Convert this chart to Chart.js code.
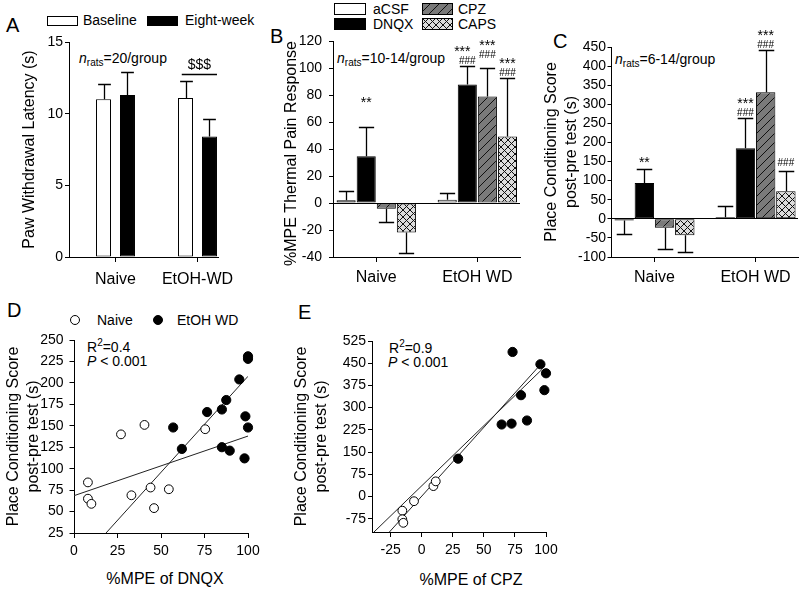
<!DOCTYPE html>
<html>
<head>
<meta charset="utf-8">
<script src="https://cdn.jsdelivr.net/npm/chart.js@4.4.1/dist/chart.umd.min.js"></script>
<style>
  body { margin: 0; background: #fff; font-family: "Liberation Sans", Arial, sans-serif; color: #000; }
  #fig { position: relative; width: 800px; height: 589px; overflow: hidden; }
  #fig canvas.chart { position: absolute; }
  .t { position: absolute; font-size: 14px; line-height: 1; white-space: nowrap; }
  .xt { position: absolute; font-size: 16px; line-height: 1; white-space: nowrap; transform: translateX(-50%); }
  .lt { position: absolute; font-size: 20px; line-height: 1; }
  .t sub { font-size: 10px; vertical-align: -3px; line-height: 0; }
  .t sup { font-size: 10px; vertical-align: 6px; line-height: 0; }
  .sw { position: absolute; }
  .dot { position: absolute; width: 10px; height: 10px; border-radius: 50%; border: 1px solid #000; box-sizing: border-box; }
</style>
</head>
<body>
<div id="fig">
  <!-- panel letters -->
  <div class="lt" style="left:6px;top:15px">A</div>
  <div class="lt" style="left:270px;top:26px">B</div>
  <div class="lt" style="left:553px;top:31px">C</div>
  <div class="lt" style="left:7px;top:300px">D</div>
  <div class="lt" style="left:298px;top:302px">E</div>

  <!-- legend A -->
  <canvas class="sw" id="swBase" width="31" height="10" style="left:47px;top:16px"></canvas>
  <div class="t" style="left:83px;top:13px">Baseline</div>
  <canvas class="sw" id="swEight" width="31" height="10" style="left:147px;top:16px"></canvas>
  <div class="t" style="left:185px;top:13px">Eight-week</div>

  <!-- legend B/C -->
  <canvas class="sw" id="swACSF" width="32" height="12" style="left:334px;top:3px"></canvas>
  <div class="t" style="left:373px;top:2px">aCSF</div>
  <canvas class="sw" id="swDNQX" width="32" height="12" style="left:334px;top:18px"></canvas>
  <div class="t" style="left:373px;top:17px">DNQX</div>
  <canvas class="sw" id="swCPZ" width="31" height="12" style="left:422px;top:3px"></canvas>
  <div class="t" style="left:458px;top:2px">CPZ</div>
  <canvas class="sw" id="swCAPS" width="31" height="12" style="left:422px;top:18px"></canvas>
  <div class="t" style="left:458px;top:17px">CAPS</div>

  <!-- group sizes -->
  <div class="t" style="left:79px;top:51px"><i>n</i><sub>rats</sub>=20/group</div>
  <div class="t" style="left:337px;top:51px"><i>n</i><sub>rats</sub>=10-14/group</div>
  <div class="t" style="left:615px;top:52px"><i>n</i><sub>rats</sub>=6-14/group</div>

  <!-- legend D -->
  <div class="dot" style="left:70px;top:315px;background:#fff"></div>
  <div class="t" style="left:97px;top:313px">Naive</div>
  <div class="dot" style="left:153px;top:315px;background:#000"></div>
  <div class="t" style="left:177px;top:313px">EtOH WD</div>

  <!-- stats D / E -->
  <div class="t" style="left:87px;top:340px">R<sup>2</sup>=0.4</div>
  <div class="t" style="left:87px;top:354px"><i>P</i> &lt; 0.001</div>
  <div class="t" style="left:389px;top:341px">R<sup>2</sup>=0.9</div>
  <div class="t" style="left:388px;top:355px"><i>P</i> &lt; 0.001</div>

  <!-- x titles D / E -->
  <div class="xt" style="left:165px;top:571px">%MPE of DNQX</div>
  <div class="xt" style="left:471px;top:572px">%MPE of CPZ</div>

  <canvas class="chart" id="cA" width="240" height="300" style="left:0;top:0"></canvas>
  <canvas class="chart" id="cB" width="260" height="300" style="left:270px;top:0"></canvas>
  <canvas class="chart" id="cC" width="270" height="300" style="left:530px;top:0"></canvas>
  <canvas class="chart" id="cD" width="270" height="299" style="left:0;top:290px"></canvas>
  <canvas class="chart" id="cE" width="290" height="299" style="left:280px;top:290px"></canvas>
</div>

<script>
// ===================================================
// DATA
// ===================================================
// A: paw withdrawal latency (s), mean and SEM
const groupsA = ['Naive', 'EtOH-WD'];
const baseline = [11.0, 11.1];
const baselineSem = [1.1, 1.15];
const eightWeek = [11.3, 8.4];
const eightWeekSem = [1.6, 1.25];
const wdBracketLevel = 12.8;   // height of the $$$ bracket

// B: %MPE thermal pain response
const groupsBC = ['Naive', 'EtOH WD'];
const mpeACSF = [2, 2.5];      const mpeACSFSem = [6.7, 4.7];
const mpeDNQX = [34.6, 87.8];  const mpeDNQXSem = [21.5, 13.6];
const mpeCPZ = [-4.2, 78.9];   const mpeCPZSem = [9.9, 21];
const mpeCAPS = [-21.8, 49.2]; const mpeCAPSSem = [15.3, 43.3];
const sigB_DNQX = [['**'], ['###', '***']];
const sigB_CPZ = [[], ['###', '***']];
const sigB_CAPS = [[], ['###', '***']];

// C: place conditioning score (s)
const cppACSF = [-4.4, 4.4];    const cppACSFSem = [36.6, 28.8];
const cppDNQX = [94, 185];      const cppDNQXSem = [37, 79.5];
const cppCPZ = [-23.6, 331.7];  const cppCPZSem = [56.7, 110];
const cppCAPS = [-42.8, 72.5];  const cppCAPSSem = [44.5, 54];
const sigC_DNQX = [['**'], ['###', '***']];
const sigC_CPZ = [[], ['###', '***']];
const sigC_CAPS = [[], ['###']];

// D: %MPE of DNQX vs place conditioning score
const dnqxNaiveX = [8, 8, 10, 27, 40.5, 33, 44, 46, 54.5, 75.4];
const dnqxNaiveY = [84, 65, 59, 140, 151, 69, 78, 54, 76, 146];
const dnqxWdX = [57, 62, 76.5, 85, 87.5, 95, 100, 100, 98.5, 100, 85, 89.5, 98];
const dnqxWdY = [148, 123, 166, 169, 180, 204, 231, 228, 161, 148, 125, 121, 112];
const dnqxFit1X = [0, 100];     const dnqxFit1Y = [68.5, 138];
const dnqxFit2X = [18.4, 100];  const dnqxFit2Y = [25, 207.7];

// E: %MPE of CPZ vs place conditioning score
const cpzNaiveX = [-15.6, -15.6, -14.8, -6.2, 9.4, 11.3];
const cpzNaiveY = [-48, -77, -89, -16, 35, 51];
const cpzWdX = [29.3, 64.3, 72.3, 84.7, 79.9, 73.1, 95.5, 100, 98.7];
const cpzWdY = [127.5, 243, 246, 256.5, 342, 488, 446.5, 416, 359];
const cpzFit1X = [-38.4, 97];   const cpzFit1Y = [-120, 430];
const cpzFit2X = [-26, 97];     const cpzFit2Y = [-120, 452];
const cpzXTicks = [-25, 0, 25, 50, 75, 100];
const cpzYTicks = [-75, 0, 75, 150, 225, 300, 375, 450, 525];

// ===================================================
// STYLE HELPERS
// ===================================================
const FAM = '"Liberation Sans", Arial, sans-serif';
Chart.defaults.font.family = FAM;
Chart.defaults.color = '#000';

function makePattern(bg, size, cross) {
  const c = document.createElement('canvas');
  c.width = c.height = size;
  const g = c.getContext('2d');
  g.fillStyle = bg; g.fillRect(0, 0, size, size);
  g.strokeStyle = '#111'; g.lineWidth = 1;
  g.beginPath();
  g.moveTo(-1, size + 1); g.lineTo(size + 1, -1);
  g.moveTo(-1, 1); g.lineTo(1, -1);
  g.moveTo(size - 1, size + 1); g.lineTo(size + 1, size - 1);
  if (cross) {
    g.moveTo(-1, -1); g.lineTo(size + 1, size + 1);
    g.moveTo(-1, size - 1); g.lineTo(1, size + 1);
    g.moveTo(size - 1, -1); g.lineTo(size + 1, 1);
  }
  g.stroke();
  return g.createPattern(c, 'repeat');
}
const cpzFill = makePattern('#7a7a7a', 9, false);
const capsFill = makePattern('#dcdcdc', 7, true);

function swatch(id, fill) {
  const c = document.getElementById(id), g = c.getContext('2d');
  g.fillStyle = fill; g.fillRect(0, 0, c.width, c.height);
  g.strokeStyle = '#000'; g.lineWidth = 1;
  g.strokeRect(0.5, 0.5, c.width - 1, c.height - 1);
}
swatch('swBase', '#fff'); swatch('swEight', '#000');
swatch('swACSF', '#fff'); swatch('swDNQX', '#000');
swatch('swCPZ', cpzFill); swatch('swCAPS', capsFill);

// force scale box sizes so plot areas land where the figure has them
const box = (w, h) => s => {
  if (w != null) s.width = w;
  if (h != null) s.height = h;
  s.paddingLeft = s.paddingRight = s.paddingTop = s.paddingBottom = 0;
};

function groupAxis(labels, min, max, pad) {
  return {
    type: 'linear', min, max, offset: false,
    border: {display: true, color: '#000', width: 1},
    grid: {display: true, offset: false, drawOnChartArea: false, tickColor: '#000', tickLength: 5},
    ticks: {font: {size: 16}, padding: pad, maxRotation: 0, minRotation: 0, autoSkip: false,
            callback: v => labels[Math.round(v)]},
    afterBuildTicks: s => { s.ticks = labels.map((l, i) => ({value: i})); },
    afterFit: box(null, 43)
  };
}

function valueAxis(o) {
  const ax = {
    min: o.min, max: o.max,
    border: {display: true, color: '#000', width: 1},
    grid: {display: true, drawOnChartArea: !!o.zero, tickColor: '#000', tickLength: o.tl, lineWidth: 1,
           color: c => (o.zero && c.tick && c.tick.value === 0) ? '#000' : 'rgba(0,0,0,0)'},
    ticks: {font: {size: 14}, padding: o.pad, stepSize: o.step, autoSkip: false, maxRotation: 0},
    afterFit: box(o.w, o.h)
  };
  if (o.ticks) ax.afterBuildTicks = s => { s.ticks = o.ticks.map(v => ({value: v})); };
  if (o.title) ax.title = {display: true, text: o.title, font: {size: 16, lineHeight: 1.25},
                           padding: o.tpad, align: o.align || 'center'};
  return ax;
}

function barSet(label, vals, sems, fill, sig) {
  return {label, data: vals.map((v, i) => ({x: i, y: v})), errors: sems, sig,
          backgroundColor: fill, borderColor: '#000', borderWidth: 1, borderSkipped: false};
}

function pts(xs, ys) { return xs.map((x, i) => ({x, y: ys[i]})); }

// ===================================================
// PLUGINS
// ===================================================
const errorBars = {
  id: 'errorBars',
  afterDatasetsDraw(chart, args, opts) {
    const ctx = chart.ctx, ys = chart.scales.y;
    chart.data.datasets.forEach((ds, di) => {
      if (!ds.errors) return;
      chart.getDatasetMeta(di).data.forEach((bar, i) => {
        const v = ds.data[i].y, e = ds.errors[i];
        const end = Math.round(ys.getPixelForValue(v >= 0 ? v + e : v - e)) + 0.5;
        const x = Math.round(bar.x) + 0.5;
        const cap = bar.width * opts.cap / 2;
        ctx.save();
        ctx.strokeStyle = '#000'; ctx.lineWidth = 1.3;
        ctx.beginPath();
        ctx.moveTo(x, bar.y); ctx.lineTo(x, end);
        ctx.moveTo(x - cap, end); ctx.lineTo(x + cap, end);
        ctx.stroke();
        ctx.restore();
      });
    });
  }
};

const sigMarks = {
  id: 'sigMarks',
  afterDatasetsDraw(chart, args, opts) {
    const ctx = chart.ctx, ys = chart.scales.y;
    chart.data.datasets.forEach((ds, di) => {
      if (!ds.sig) return;
      chart.getDatasetMeta(di).data.forEach((bar, i) => {
        const stack = ds.sig[i] || [];
        const top = ys.getPixelForValue(ds.data[i].y + ds.errors[i]);
        const key = di + '-' + i;
        const extra = (opts.extra || {})[key] || 0;
        const shift = (opts.shift || {})[key] || 0;
        stack.forEach((txt, k) => {
          const star = txt[0] === '*';
          ctx.save();
          ctx.font = (star ? 14 : 10) + 'px ' + FAM;
          ctx.fillStyle = '#000'; ctx.textAlign = 'center'; ctx.textBaseline = 'alphabetic';
          ctx.fillText(txt, bar.x + (k > 0 ? shift : 0), top - 2 - extra - k * 8);
          ctx.restore();
        });
      });
    });
  }
};

const bracket = {
  id: 'bracket',
  afterDatasetsDraw(chart, args, opts) {
    if (!opts.text) return;
    const ctx = chart.ctx, ys = chart.scales.y;
    const b0 = chart.getDatasetMeta(0).data[opts.index];
    const b1 = chart.getDatasetMeta(1).data[opts.index];
    const x1 = b0.x - b0.width * 0.25, x2 = b1.x + b1.width / 2;
    const y = Math.round(ys.getPixelForValue(opts.level)) + 0.5;
    ctx.save();
    ctx.strokeStyle = '#000'; ctx.lineWidth = 1.3;
    ctx.beginPath(); ctx.moveTo(x1, y); ctx.lineTo(x2, y); ctx.stroke();
    ctx.font = '14px ' + FAM; ctx.textAlign = 'center'; ctx.fillStyle = '#000';
    ctx.fillText(opts.text, (x1 + x2) / 2, y - 6);
    ctx.restore();
  }
};

const base = {responsive: false, animation: false, devicePixelRatio: 1, events: []};

// ===================================================
// PANEL A
// ===================================================
new Chart(document.getElementById('cA'), {
  type: 'bar',
  data: {datasets: [
    barSet('Baseline', baseline, baselineSem, '#fff'),
    barSet('Eight-week', eightWeek, eightWeekSem, '#000')
  ]},
  options: {...base,
    categoryPercentage: 0.585, barPercentage: 0.625,
    layout: {padding: {left: 0, top: 42, right: 22, bottom: 0}},
    plugins: {legend: {display: false}, tooltip: {enabled: false},
              errorBars: {cap: 0.85},
              bracket: {index: 1, level: wdBracketLevel, text: '$$$'}},
    scales: {
      x: groupAxis(groupsA, -0.567, 1.25, 8),
      y: valueAxis({min: 0, max: 15, step: 5, tl: 4, pad: 2, w: 69,
                    title: 'Paw Withdrawal Latency (s)', tpad: {top: 20, bottom: 0}})
    }
  },
  plugins: [errorBars, bracket]
});

// ===================================================
// PANEL B
// ===================================================
new Chart(document.getElementById('cB'), {
  type: 'bar',
  data: {datasets: [
    barSet('aCSF', mpeACSF, mpeACSFSem, '#fff'),
    barSet('DNQX', mpeDNQX, mpeDNQXSem, '#000', sigB_DNQX),
    barSet('CPZ', mpeCPZ, mpeCPZSem, cpzFill, sigB_CPZ),
    barSet('CAPS', mpeCAPS, mpeCAPSSem, capsFill, sigB_CAPS)
  ]},
  options: {...base,
    categoryPercentage: 0.795, barPercentage: 0.95,
    layout: {padding: {left: 0, top: 41, right: 10, bottom: 0}},
    plugins: {legend: {display: false}, tooltip: {enabled: false},
              errorBars: {cap: 0.8},
              sigMarks: {extra: {'1-0': 18, '2-1': 8}, shift: {'1-1': -5}}},
    scales: {
      x: groupAxis(groupsBC, -0.428, 1.422, 6),
      y: valueAxis({min: -40, max: 120, step: 20, tl: 4, pad: 7, w: 63, zero: true,
                    title: '%MPE Thermal Pain Response', tpad: {top: 12, bottom: 0}, align: 'end'})
    }
  },
  plugins: [errorBars, sigMarks]
});

// ===================================================
// PANEL C
// ===================================================
new Chart(document.getElementById('cC'), {
  type: 'bar',
  data: {datasets: [
    barSet('aCSF', cppACSF, cppACSFSem, '#fff'),
    barSet('DNQX', cppDNQX, cppDNQXSem, '#000', sigC_DNQX),
    barSet('CPZ', cppCPZ, cppCPZSem, cpzFill, sigC_CPZ),
    barSet('CAPS', cppCAPS, cppCAPSSem, capsFill, sigC_CAPS)
  ]},
  options: {...base,
    categoryPercentage: 0.8, barPercentage: 0.96,
    layout: {padding: {left: 0, top: 47, right: 2, bottom: 0}},
    plugins: {legend: {display: false}, tooltip: {enabled: false},
              errorBars: {cap: 0.8},
              sigMarks: {extra: {'3-1': 3}}},
    scales: {
      x: groupAxis(groupsBC, -0.43, 1.42, 6),
      y: valueAxis({min: -100, max: 450, step: 50, tl: 3.5, pad: 1.5, w: 81, zero: true,
                    title: ['Place Conditioning Score', 'post-pre test (s)'], tpad: {top: 11.7, bottom: 0}})
    }
  },
  plugins: [errorBars, sigMarks]
});

// ===================================================
// SCATTER PANELS
// ===================================================
const openDot = {pointRadius: 4.4, pointBackgroundColor: '#fff', pointBorderColor: '#000', pointBorderWidth: 1, showLine: false, clip: false};
const fullDot = {pointRadius: 4.6, pointBackgroundColor: '#000', pointBorderColor: '#000', pointBorderWidth: 1, showLine: false, clip: false};
const fitLine = {showLine: true, pointRadius: 0, borderColor: '#222', borderWidth: 1, fill: false};

new Chart(document.getElementById('cD'), {
  type: 'scatter',
  data: {datasets: [
    {label: 'Naive', data: pts(dnqxNaiveX, dnqxNaiveY), ...openDot},
    {label: 'EtOH WD', data: pts(dnqxWdX, dnqxWdY), ...fullDot},
    {label: 'fit 1', data: pts(dnqxFit1X, dnqxFit1Y), ...fitLine},
    {label: 'fit 2', data: pts(dnqxFit2X, dnqxFit2Y), ...fitLine}
  ]},
  options: {...base,
    layout: {padding: {left: 0, top: 50, right: 22, bottom: 0}},
    plugins: {legend: {display: false}, tooltip: {enabled: false}},
    scales: {
      x: valueAxis({min: 0, max: 100, step: 25, tl: 5, pad: 5, h: 56}),
      y: valueAxis({min: 25, max: 250, step: 25, tl: 4.5, pad: 6, w: 74,
                    title: ['Place Conditioning Score', 'post-pre test (s)'], tpad: {top: 3.3, bottom: 0}})
    }
  }
});

new Chart(document.getElementById('cE'), {
  type: 'scatter',
  data: {datasets: [
    {label: 'Naive', data: pts(cpzNaiveX, cpzNaiveY), ...openDot},
    {label: 'EtOH WD', data: pts(cpzWdX, cpzWdY), ...fullDot},
    {label: 'fit 1', data: pts(cpzFit1X, cpzFit1Y), ...fitLine},
    {label: 'fit 2', data: pts(cpzFit2X, cpzFit2Y), ...fitLine}
  ]},
  options: {...base,
    layout: {padding: {left: 0, top: 51, right: 24, bottom: 0}},
    plugins: {legend: {display: false}, tooltip: {enabled: false}},
    scales: {
      x: valueAxis({min: -40, max: 100, ticks: cpzXTicks, tl: 5, pad: 5, h: 57}),
      y: valueAxis({min: -120, max: 525, ticks: cpzYTicks, tl: 4, pad: 2, w: 92,
                    title: ['Place Conditioning Score', 'post-pre test (s)'], tpad: {top: 11.7, bottom: 0}})
    }
  }
});
</script>
</body>
</html>
